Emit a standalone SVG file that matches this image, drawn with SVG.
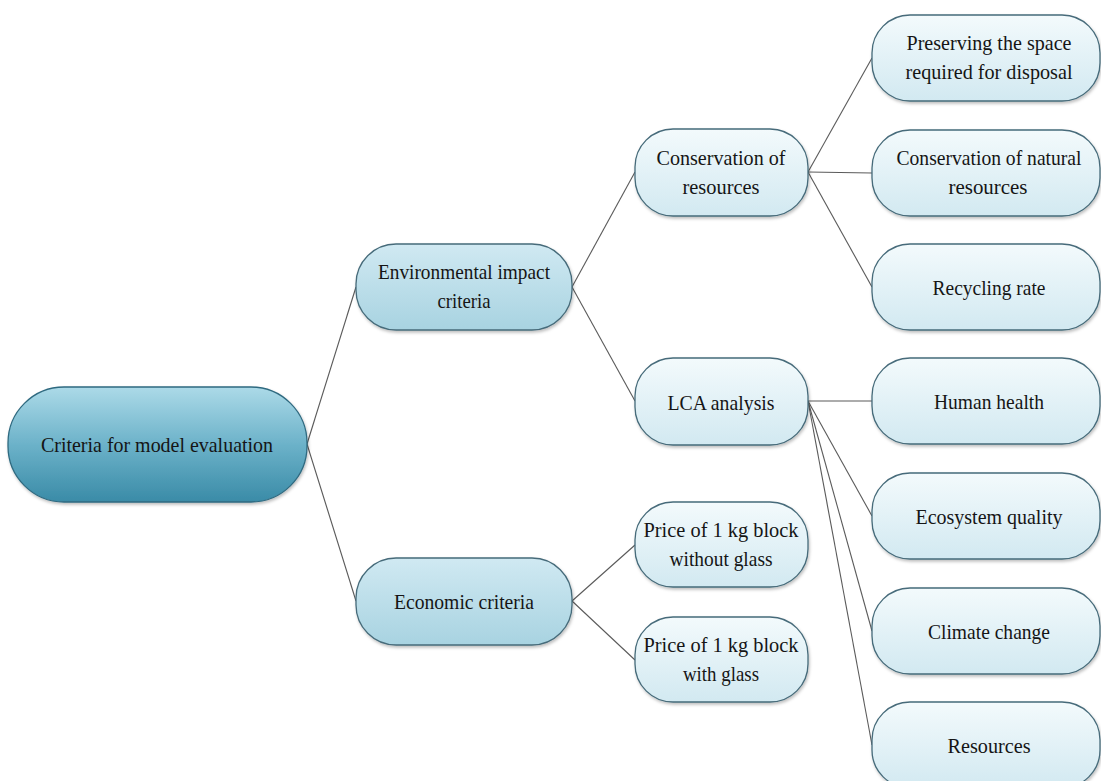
<svg xmlns="http://www.w3.org/2000/svg" width="1101" height="781" viewBox="0 0 1101 781">
<defs>
<linearGradient id="gRoot" x1="0" y1="0" x2="0" y2="1"><stop offset="0" stop-color="#acdae8"/><stop offset="0.5" stop-color="#6cb2c9"/><stop offset="1" stop-color="#3a8ba7"/></linearGradient>
<linearGradient id="gL1" x1="0" y1="0" x2="0" y2="1"><stop offset="0" stop-color="#d0e9f2"/><stop offset="1" stop-color="#a8d3e1"/></linearGradient>
<linearGradient id="gL2" x1="0" y1="0" x2="0" y2="1"><stop offset="0" stop-color="#f3fafc"/><stop offset="1" stop-color="#d2e9f1"/></linearGradient>
<filter id="sh" x="-10%" y="-10%" width="120%" height="130%"><feDropShadow dx="1" dy="2" stdDeviation="1.5" flood-color="#000" flood-opacity="0.25"/></filter>
</defs>
<style>
.n{stroke:#466b7a;stroke-width:1.3;filter:url(#sh)}
.root{fill:url(#gRoot);stroke:#2f6a80}
.l1{fill:url(#gL1)}
.l2{fill:url(#gL2)}
text{font-family:"Liberation Serif","Times New Roman",serif;font-size:22px;fill:#151515;text-anchor:middle}
.c line{stroke:#5a5a5a;stroke-width:1.1}
</style>
<rect width="1101" height="781" fill="#ffffff"/>
<g class="c" id="connectors">
<line x1="307" y1="444" x2="356" y2="287"/>
<line x1="307" y1="444" x2="356" y2="601"/>
<line x1="572" y1="287" x2="635" y2="172"/>
<line x1="572" y1="287" x2="635" y2="401"/>
<line x1="572" y1="601" x2="635" y2="545"/>
<line x1="572" y1="601" x2="635" y2="660"/>
<line x1="808" y1="172" x2="872" y2="58"/>
<line x1="808" y1="172" x2="872" y2="173"/>
<line x1="808" y1="172" x2="872" y2="287"/>
<line x1="808" y1="401" x2="872" y2="401"/>
<line x1="808" y1="401" x2="872" y2="516"/>
<line x1="808" y1="401" x2="872" y2="631"/>
<line x1="808" y1="401" x2="872" y2="745"/>
</g>
<g id="root"><rect class="n root" x="8" y="387" width="299" height="115" rx="56" ry="56"/><text x="157" y="452" textLength="232" lengthAdjust="spacingAndGlyphs">Criteria for model evaluation</text></g>
<g id="env"><rect class="n l1" x="356" y="244" width="216" height="86" rx="40" ry="40"/><text x="464" y="279" textLength="172" lengthAdjust="spacingAndGlyphs">Environmental impact</text><text x="464" y="308" textLength="53" lengthAdjust="spacingAndGlyphs">criteria</text></g>
<g id="econ"><rect class="n l1" x="356" y="558" width="216" height="87" rx="40" ry="40"/><text x="464" y="609" textLength="140" lengthAdjust="spacingAndGlyphs">Economic criteria</text></g>
<g id="cons"><rect class="n l2" x="635" y="129" width="173" height="87" rx="38" ry="38"/><text x="721" y="165" textLength="129" lengthAdjust="spacingAndGlyphs">Conservation of</text><text x="721" y="194" textLength="77" lengthAdjust="spacingAndGlyphs">resources</text></g>
<g id="lca"><rect class="n l2" x="635" y="358" width="173" height="87" rx="38" ry="38"/><text x="721" y="410" textLength="107" lengthAdjust="spacingAndGlyphs">LCA analysis</text></g>
<g id="pricewo"><rect class="n l2" x="635" y="502" width="173" height="85" rx="38" ry="38"/><text x="721" y="537" textLength="155" lengthAdjust="spacingAndGlyphs">Price of 1 kg block</text><text x="721" y="566" textLength="103" lengthAdjust="spacingAndGlyphs">without glass</text></g>
<g id="pricew"><rect class="n l2" x="635" y="617" width="173" height="85" rx="38" ry="38"/><text x="721" y="652" textLength="155" lengthAdjust="spacingAndGlyphs">Price of 1 kg block</text><text x="721" y="681" textLength="76" lengthAdjust="spacingAndGlyphs">with glass</text></g>
<g id="preserve"><rect class="n l2" x="872" y="15" width="228" height="86" rx="38" ry="38"/><text x="989" y="50" textLength="165" lengthAdjust="spacingAndGlyphs">Preserving the space</text><text x="989" y="79" textLength="167" lengthAdjust="spacingAndGlyphs">required for disposal</text></g>
<g id="consnat"><rect class="n l2" x="872" y="130" width="228" height="86" rx="38" ry="38"/><text x="989" y="165" textLength="185" lengthAdjust="spacingAndGlyphs">Conservation of natural</text><text x="988" y="194" textLength="79" lengthAdjust="spacingAndGlyphs">resources</text></g>
<g id="recycling"><rect class="n l2" x="872" y="244" width="228" height="86" rx="38" ry="38"/><text x="989" y="295" textLength="113" lengthAdjust="spacingAndGlyphs">Recycling rate</text></g>
<g id="human"><rect class="n l2" x="872" y="358" width="228" height="86" rx="38" ry="38"/><text x="989" y="409" textLength="110" lengthAdjust="spacingAndGlyphs">Human health</text></g>
<g id="eco"><rect class="n l2" x="872" y="473" width="228" height="86" rx="38" ry="38"/><text x="989" y="524" textLength="147" lengthAdjust="spacingAndGlyphs">Ecosystem quality</text></g>
<g id="climate"><rect class="n l2" x="872" y="588" width="228" height="86" rx="38" ry="38"/><text x="989" y="639" textLength="122" lengthAdjust="spacingAndGlyphs">Climate change</text></g>
<g id="resources"><rect class="n l2" x="872" y="702" width="228" height="86" rx="38" ry="38"/><text x="989" y="753" textLength="83" lengthAdjust="spacingAndGlyphs">Resources</text></g>
</svg>
